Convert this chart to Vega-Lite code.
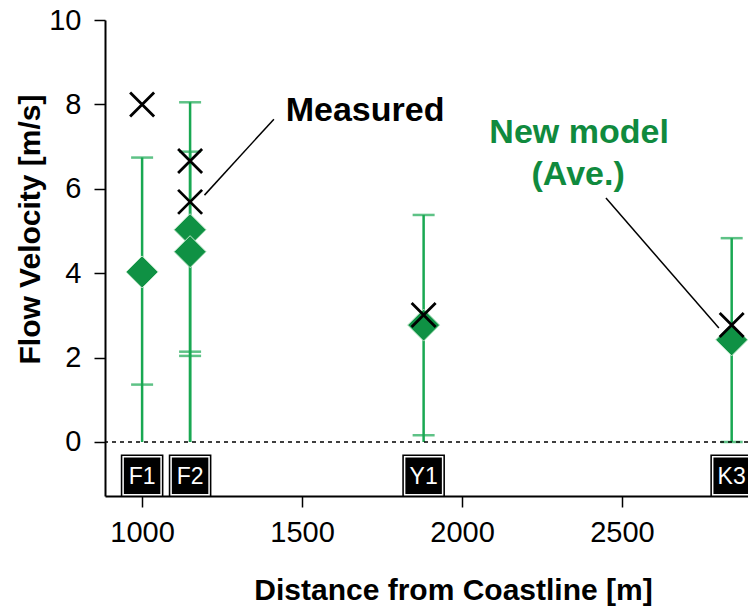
{
  "$schema": "https://vega.github.io/schema/vega-lite/v6.json",
  "width": 643,
  "height": 476,
  "autosize": "none",
  "padding": {"left": 105, "top": 20, "right": 0, "bottom": 110},
  "background": "white",
  "config": {
    "view": {"stroke": null},
    "font": "Liberation Sans",
    "axis": {
      "grid": false,
      "domainColor": "black",
      "domainWidth": 2,
      "tickColor": "black",
      "tickWidth": 1.5,
      "tickSize": 11,
      "labelFont": "Liberation Sans",
      "labelFontSize": 29,
      "labelColor": "black",
      "titleFont": "Liberation Sans",
      "titleFontSize": 30,
      "titleFontWeight": "bold",
      "titleColor": "black"
    }
  },
  "datasets": {
    "model": [
      {"station": "F1", "x": 1000, "ave": 4.03, "lo": 1.36, "hi": 6.74},
      {"station": "F2", "x": 1150, "ave": 5.03, "lo": 2.04, "hi": 8.05},
      {"station": "F2", "x": 1150, "ave": 4.51, "lo": 2.14, "hi": 6.88},
      {"station": "Y1", "x": 1880, "ave": 2.77, "lo": 0.16, "hi": 5.38},
      {"station": "K3", "x": 2843, "ave": 2.42, "lo": 0.0, "hi": 4.83}
    ],
    "measured": [
      {"station": "F1", "x": 1000, "v": 8.0},
      {"station": "F2", "x": 1150, "v": 6.66},
      {"station": "F2", "x": 1150, "v": 5.69},
      {"station": "Y1", "x": 1880, "v": 3.01},
      {"station": "K3", "x": 2843, "v": 2.77}
    ],
    "stations": [
      {"station": "F1", "x": 1000},
      {"station": "F2", "x": 1150},
      {"station": "Y1", "x": 1880},
      {"station": "K3", "x": 2843}
    ],
    "leaders": [
      {"x": 1412, "y": 7.65, "x2": 1195, "y2": 5.85},
      {"x": 2450, "y": 5.78, "x2": 2803, "y2": 2.70}
    ],
    "notes": [
      {"x": 1697, "y": 7.84, "label": "Measured", "c": "black"},
      {"x": 2366, "y": 7.32, "label": "New model", "c": "green"},
      {"x": 2363, "y": 6.33, "label": "(Ave.)", "c": "green"}
    ]
  },
  "layer": [
    {
      "data": {"name": "model"},
      "mark": {"type": "rule", "color": "#19a852", "strokeWidth": 2.5},
      "encoding": {
        "x": {
          "field": "x", "type": "quantitative",
          "scale": {"domain": [884, 2894], "nice": false, "zero": false},
          "axis": {"values": [1000, 1500, 2000, 2500], "format": "d", "title": "Distance from Coastline [m]", "labelPadding": 11, "titleX": 348, "titleY": 94, "titleBaseline": "middle", "titleAnchor": "middle", "titleAlign": "center"}
        },
        "y": {
          "field": "hi", "type": "quantitative",
          "scale": {"domain": [-1.28, 10], "nice": false, "zero": false},
          "axis": {"values": [0, 2, 4, 6, 8, 10], "title": "Flow Velocity [m/s]", "labelPadding": 13, "titleX": -75, "titleY": 209, "titleBaseline": "middle", "titleAnchor": "middle", "titleAlign": "center"}
        },
        "y2": {"datum": 0}
      }
    },
    {
      "data": {"name": "model"},
      "transform": [{"fold": ["lo", "hi"], "as": ["k", "val"]}],
      "mark": {"type": "tick", "orient": "horizontal", "color": "#19a852", "size": 22, "thickness": 2.5},
      "encoding": {
        "x": {"field": "x", "type": "quantitative"},
        "y": {"field": "val", "type": "quantitative"}
      }
    },
    {
      "data": {"values": [{}]},
      "mark": {"type": "rule", "color": "black", "strokeWidth": 1.5, "strokeDash": [4, 4]},
      "encoding": {"y": {"datum": 0}}
    },
    {
      "data": {"name": "model"},
      "mark": {"type": "point", "shape": "diamond", "filled": true, "size": 1024, "fill": "#0f9144", "stroke": "#bfe8c9", "strokeWidth": 1, "opacity": 1},
      "encoding": {
        "x": {"field": "x", "type": "quantitative"},
        "y": {"field": "ave", "type": "quantitative"}
      }
    },
    {
      "data": {"name": "measured"},
      "mark": {"type": "point", "shape": "M-1,-1L1,1M-1,1L1,-1", "filled": false, "size": 576, "stroke": "black", "strokeWidth": 2.8, "opacity": 1},
      "encoding": {
        "x": {"field": "x", "type": "quantitative"},
        "y": {"field": "v", "type": "quantitative"}
      }
    },
    {
      "data": {"name": "leaders"},
      "mark": {"type": "rule", "color": "black", "strokeWidth": 1.5},
      "encoding": {
        "x": {"field": "x", "type": "quantitative"},
        "y": {"field": "y", "type": "quantitative"},
        "x2": {"field": "x2"},
        "y2": {"field": "y2"}
      }
    },
    {
      "data": {"name": "notes"},
      "mark": {"type": "text", "fontSize": 34, "fontWeight": "bold", "align": "center", "baseline": "middle", "font": "Liberation Sans"},
      "encoding": {
        "x": {"field": "x", "type": "quantitative"},
        "y": {"field": "y", "type": "quantitative"},
        "text": {"field": "label"},
        "color": {"field": "c", "type": "nominal", "scale": {"domain": ["black", "green"], "range": ["#000000", "#108a3e"]}, "legend": null}
      }
    },
    {
      "data": {"name": "stations"},
      "mark": {"type": "square", "size": 1820, "filled": true, "fill": "black", "opacity": 1},
      "encoding": {
        "x": {"field": "x", "type": "quantitative"},
        "y": {"datum": -0.8}
      }
    },
    {
      "data": {"name": "stations"},
      "mark": {"type": "square", "size": 1444, "filled": false, "stroke": "white", "strokeWidth": 1.5, "opacity": 1},
      "encoding": {
        "x": {"field": "x", "type": "quantitative"},
        "y": {"datum": -0.8}
      }
    },
    {
      "data": {"name": "stations"},
      "mark": {"type": "text", "color": "white", "fontSize": 23, "align": "center", "baseline": "middle", "font": "Liberation Sans", "dy": 1},
      "encoding": {
        "x": {"field": "x", "type": "quantitative"},
        "y": {"datum": -0.8},
        "text": {"field": "station"}
      }
    }
  ]
}
